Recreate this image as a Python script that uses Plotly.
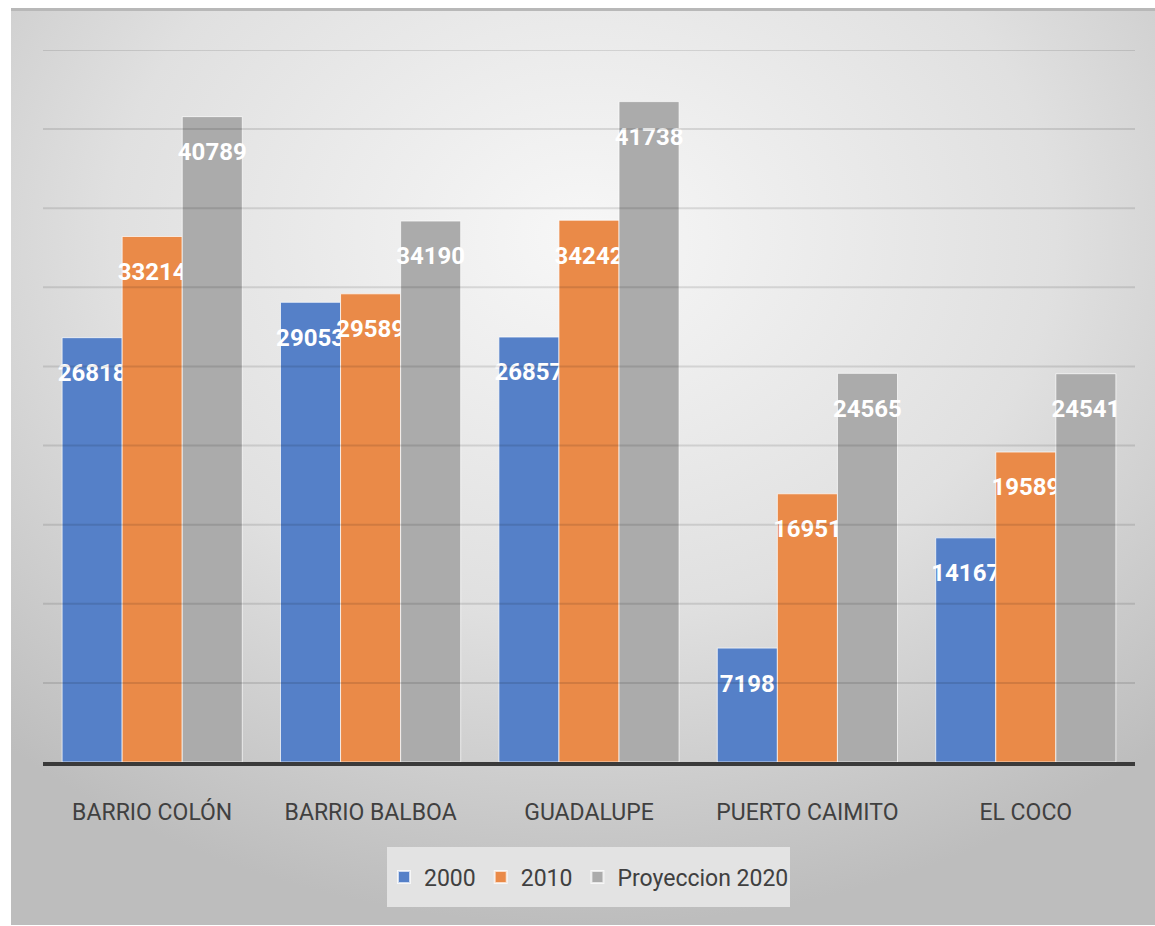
import plotly.graph_objects as go
import urllib.parse

categories = ["BARRIO COLÓN", "BARRIO BALBOA", "GUADALUPE", "PUERTO CAIMITO", "EL COCO"]
series_names = ["2000", "2010", "Proyeccion 2020"]
values_2000 = [26818, 29053, 26857, 7198, 14167]
values_2010 = [33214, 29589, 34242, 16951, 19589]
values_2020 = [40789, 34190, 41738, 24565, 24541]
colors = ["#5580C8", "#EA8A48", "#ABABAB"]
grid_ticks = [5000, 10000, 15000, 20000, 25000, 30000, 35000, 40000, 45000]

FONT = "Roboto, Liberation Sans Narrow, sans-serif"

fig = go.Figure()
for name, vals, col in zip(series_names, [values_2000, values_2010, values_2020], colors):
    fig.add_trace(go.Bar(
        x=categories, y=vals, name=name,
        marker=dict(color=col, line=dict(color="rgba(255,255,255,0.7)", width=1)),
        text=[str(v) for v in vals],
        texttemplate="&nbsp;<br><span style='font-size:24px'>%{text}</span>",
        textposition="inside", insidetextanchor="end", textangle=0,
        constraintext="none",
        textfont=dict(family=FONT, size=18, color="white", weight="bold"),
        cliponaxis=False,
    ))

# background radial gradient via svg
svg = (
    "<svg xmlns='http://www.w3.org/2000/svg' width='1144' height='918' viewBox='0 0 1144 918' preserveAspectRatio='none'>"
    "<defs><radialGradient id='g' cx='50%' cy='25%' r='75%'>"
    "<stop offset='0%' stop-color='#f7f7f7'/>"
    "<stop offset='55%' stop-color='#e0e0e0'/>"
    "<stop offset='100%' stop-color='#bdbdbd'/>"
    "</radialGradient></defs>"
    "<rect x='0' y='0' width='1144' height='918' fill='url(#g)'/>"
    "<rect x='0' y='0' width='1144' height='3' fill='#b8b8b8'/>"
    "</svg>"
)
src = "data:image/svg+xml;charset=utf-8," + urllib.parse.quote(svg)

W, H = 1155, 926
ml, mr, mt, mb = 43, 20, 50, 164
pw, ph = W - ml - mr, H - mt - mb
fig.add_layout_image(dict(
    source=src, xref="paper", yref="paper",
    x=(11 - ml) / pw, y=(H - mb - 8) / ph,
    sizex=(W - 11) / pw, sizey=(H - 9) / ph,
    sizing="stretch", xanchor="left", yanchor="top", layer="below",
))

# legend box
fig.add_shape(type="rect", xref="paper", yref="paper",
              x0=(387 - ml) / pw, x1=(790 - ml) / pw,
              y0=(H - mb - 847) / ph, y1=(H - mb - 907) / ph,
              fillcolor="#e3e3e3", line=dict(width=0), layer="below")

for t in grid_ticks:
    fig.add_shape(type="line", xref="paper", yref="y", x0=0, x1=1, y0=t, y1=t,
                  line=dict(color="rgba(0,0,0,0.11)", width=2), layer="above")

fig.update_layout(
    width=W, height=H,
    margin=dict(l=ml, r=mr, t=mt, b=mb),
    paper_bgcolor="white", plot_bgcolor="rgba(0,0,0,0)",
    barmode="group", bargap=0.175, bargroupgap=0,
    font=dict(family=FONT, color="#404040"),
    legend=dict(orientation="h", x=0.5, xanchor="center", y=(H - mb - 877) / ph, yanchor="middle",
                bgcolor="rgba(0,0,0,0)", font=dict(size=23, color="#404040"),
                itemsizing="constant"),
)
fig.update_xaxes(showline=True, linecolor="#3a3a3a", linewidth=4, ticks="",
                 tickfont=dict(size=23, color="#404040"), ticklabelstandoff=26,
                 showgrid=False)
fig.update_yaxes(range=[0, 45000], dtick=5000, showticklabels=False, showgrid=False,
                 zeroline=False)

fig.write_html("out.html", config={"displayModeBar": False},
               post_script="document.body.style.margin='0px';")
